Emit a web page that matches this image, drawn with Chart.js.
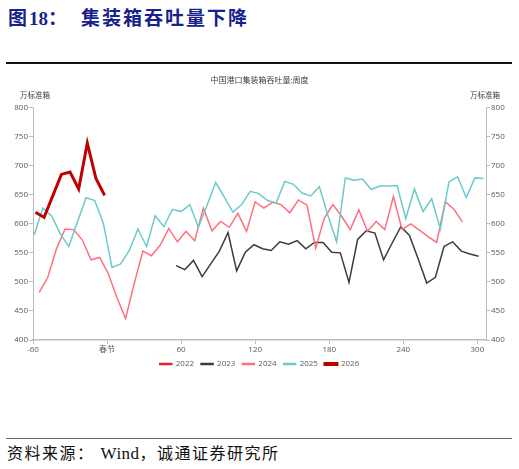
<!DOCTYPE html>
<html>
<head>
<meta charset="utf-8">
<script src="https://cdn.jsdelivr.net/npm/chart.js@4.4.1/dist/chart.umd.min.js"></script>
<style>
  html, body { margin: 0; padding: 0; background: #fff; }
  body { width: 519px; height: 469px; position: relative; overflow: hidden; }
  .head {
    position: absolute; left: 8px; top: 3px;
    font-family: "Liberation Serif", "Noto Sans CJK SC", serif;
    font-weight: bold; font-size: 19px; color: #17238a; white-space: nowrap;
  }
  .head .cn { font-family: "Noto Sans CJK SC", sans-serif; letter-spacing: 2px; }
  .rule-top { position: absolute; left: 6px; top: 62px; width: 506px; height: 2px; background: #111; }
  .rule-bot { position: absolute; left: 6px; top: 438px; width: 506px; height: 1px; background: #666; }
  .src {
    position: absolute; left: 7px; top: 440px; white-space: nowrap;
    font-family: "Noto Sans CJK SC", sans-serif; font-size: 16px; color: #111; letter-spacing: 1.5px;
  }
  .src .en { font-family: "Liberation Serif", serif; font-size: 17px; letter-spacing: 0.5px; margin-left: 6px; }
  #wrap { position: absolute; left: 0; top: 64px; width: 519px; height: 374px; }
</style>
</head>
<body>
<div class="head"><span class="cn">图</span>18：<span class="cn" style="margin-left:14px">集装箱吞吐量下降</span></div>
<div class="rule-top"></div>
<div id="wrap"><canvas id="port-chart"></canvas></div>
<div class="rule-bot"></div>
<div class="src">资料来源：<span class="en">Wind</span>，诚通证券研究所</div>

<script>
// 中国港口集装箱吞吐量:周度 (万标准箱), x = 距春节天数, 每周一个点
const xTicks = [-60, 0, 60, 120, 180, 240, 300];
const yTicks = [400, 450, 500, 550, 600, 650, 700, 750, 800];
const years = ['2022', '2023', '2024', '2025', '2026'];

const start2022 = 0;
const values2022 = [];

const start2023 = 56;
const values2023 = [528, 521, 537, 509, 531, 553, 585, 519, 551, 564, 557, 554, 569, 565, 571, 557,
  568, 568, 551, 550, 499, 573, 588, 584, 538, 567, 595, 580, 540, 498, 508, 561, 569, 553, 548, 544];

const start2024 = -55;
const values2024 = [482, 508, 557, 591, 590, 572, 538, 542, 514, 473, 437, 497, 553, 545, 563, 592,
  569, 587, 571, 627, 588, 604, 594, 618, 587, 638, 627, 637, 633, 619, 641, 632, 558, 610, 633, 613,
  590, 624, 587, 604, 590, 647, 590, 600, 589, 578, 568, 638, 625, 603];

const start2025 = -59;
const values2025 = [581, 627, 614, 583, 561, 603, 645, 640, 601, 525, 531, 554, 591, 561, 614, 595,
  625, 621, 633, 594, 632, 671, 646, 620, 633, 656, 652, 640, 636, 673, 668, 653, 648, 664, 614, 569,
  679, 675, 677, 659, 665, 665, 666, 609, 660, 621, 643, 591, 672, 681, 645, 679, 678];

const start2026 = -58;
const values2026 = [620, 611, null, 685, 689, 660, 739, 678, 649];

const colors = ['#e8212b', '#3d3a3a', '#ff6f7d', '#6ccaca', '#c00000'];
const widths = [1.5, 1.5, 1.5, 1.5, 3];

function weekly(start, values) {
    return values.map((v, i) => ({ x: start + 7 * i, y: v }));
}

const series = [
    weekly(start2022, values2022),
    weekly(start2023, values2023),
    weekly(start2024, values2024),
    weekly(start2025, values2025),
    weekly(start2026, values2026)
];

// unit labels above both y axes
const unitPlugin = {
    id: 'units',
    afterDraw(chart) {
        const ctx = chart.ctx;
        const area = chart.chartArea;
        ctx.save();
        ctx.fillStyle = '#404040';
        ctx.textBaseline = 'middle';
        ctx.font = '7.5px "Noto Sans CJK SC"';
        ctx.textAlign = 'left';
        ctx.fillText('万标准箱', 20, area.top - 12);
        ctx.textAlign = 'right';
        ctx.fillText('万标准箱', 500, area.top - 12);
        ctx.restore();
    }
};

const tickFont = { family: '"Open Sans", "Noto Sans CJK SC"', size: 8 };
const axisGray = '#bdbdbd';

function yAxis(position) {
    return {
        type: 'linear',
        position: position,
        display: true,
        min: 400,
        max: 800,
        afterBuildTicks(scale) { scale.ticks = yTicks.map(v => ({ value: v })); },
        afterFit(scale) { scale.width = 33; },
        border: { display: true, color: axisGray, width: 1 },
        grid: { drawOnChartArea: false, drawTicks: true, tickLength: 4, color: axisGray },
        ticks: { color: '#595959', font: tickFont, padding: 1 }
    };
}

new Chart(document.getElementById('port-chart').getContext('2d'), {
    type: 'line',
    data: {
        datasets: years.map((name, i) => ({
            label: name,
            data: series[i],
            borderColor: colors[i],
            backgroundColor: colors[i],
            borderWidth: widths[i],
            pointRadius: 0,
            tension: 0,
            spanGaps: true,
            order: name === '2026' ? 0 : 5 - i
        }))
    },
    plugins: [unitPlugin],
    options: {
        responsive: true,
        maintainAspectRatio: false,
        animation: false,
        events: [],
        layout: { padding: { left: 0, right: 0, top: 0, bottom: 60 } },
        plugins: {
            title: {
                display: true,
                text: '中国港口集装箱吞吐量:周度',
                color: '#404040',
                font: { family: '"Noto Sans CJK SC"', size: 8, weight: 'normal' },
                padding: { top: 11, bottom: 23 }
            },
            legend: {
                position: 'bottom',
                labels: {
                    sort: (a, b) => a.datasetIndex - b.datasetIndex,
                    boxWidth: 12,
                    boxHeight: 1,
                    padding: 7,
                    color: '#595959',
                    font: { family: '"Open Sans"', size: 8 }
                }
            },
            tooltip: { enabled: false }
        },
        scales: {
            x: {
                type: 'linear',
                min: -60,
                max: 307,
                afterBuildTicks(scale) { scale.ticks = xTicks.map(v => ({ value: v })); },
                afterFit(scale) { scale.height = 13; },
                border: { display: true, color: axisGray, width: 1.5 },
                grid: { drawOnChartArea: false, drawTicks: true, tickLength: 4, color: axisGray },
                ticks: {
                    color: '#595959',
                    font: tickFont,
                    maxRotation: 0,
                    padding: 1,
                    callback: v => (v === 0 ? '春节' : v)
                }
            },
            y: yAxis('left'),
            y2: yAxis('right')
        }
    }
});
</script>
</body>
</html>
